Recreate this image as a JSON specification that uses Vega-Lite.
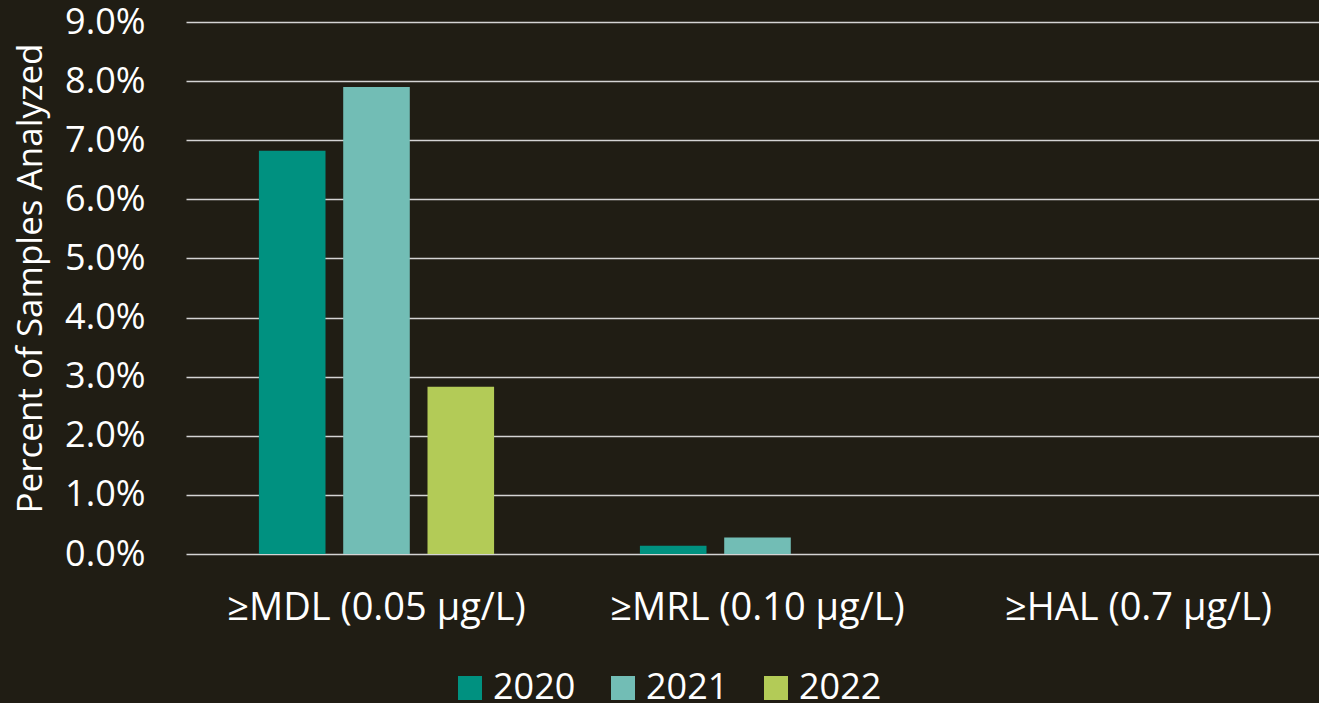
{
  "$schema": "https://vega.github.io/schema/vega-lite/v6.json",
  "width": 1143,
  "height": 532,
  "autosize": {"type": "none"},
  "padding": {"left": 186, "top": 22, "right": 0, "bottom": 149},
  "background": "#201D14",
  "config": {
    "view": {"stroke": null},
    "font": "Open Sans",
    "axis": {
      "labelColor": "#FFFFFF",
      "titleColor": "#FFFFFF",
      "labelFont": "Open Sans",
      "titleFont": "Open Sans",
      "titleFontWeight": "normal",
      "domain": false,
      "ticks": false
    },
    "legend": {
      "labelColor": "#FFFFFF",
      "labelFont": "Open Sans"
    }
  },
  "data": {
    "values": [
      {"threshold": "≥MDL (0.05 µg/L)", "year": "2020", "pct": 0.0682},
      {"threshold": "≥MDL (0.05 µg/L)", "year": "2021", "pct": 0.0790},
      {"threshold": "≥MDL (0.05 µg/L)", "year": "2022", "pct": 0.0283},
      {"threshold": "≥MRL (0.10 µg/L)", "year": "2020", "pct": 0.0014},
      {"threshold": "≥MRL (0.10 µg/L)", "year": "2021", "pct": 0.0028},
      {"threshold": "≥MRL (0.10 µg/L)", "year": "2022", "pct": 0.0},
      {"threshold": "≥HAL (0.7 µg/L)", "year": "2020", "pct": 0.0},
      {"threshold": "≥HAL (0.7 µg/L)", "year": "2021", "pct": 0.0},
      {"threshold": "≥HAL (0.7 µg/L)", "year": "2022", "pct": 0.0}
    ]
  },
  "mark": {"type": "bar"},
  "encoding": {
    "x": {
      "field": "threshold",
      "type": "nominal",
      "sort": ["≥MDL (0.05 µg/L)", "≥MRL (0.10 µg/L)", "≥HAL (0.7 µg/L)"],
      "scale": {"paddingInner": 0, "paddingOuter": 0},
      "axis": {
        "title": null,
        "labelAngle": 0,
        "labelFontSize": 38,
        "labelLimit": 0,
        "labelPadding": 35,
        "grid": false
      }
    },
    "xOffset": {
      "field": "year",
      "type": "nominal",
      "scale": {"paddingInner": 0.21, "paddingOuter": 0.865}
    },
    "y": {
      "field": "pct",
      "type": "quantitative",
      "scale": {"domain": [0, 0.09], "nice": false},
      "axis": {
        "title": "Percent of Samples Analyzed",
        "format": ".1%",
        "values": [0, 0.01, 0.02, 0.03, 0.04, 0.05, 0.06, 0.07, 0.08, 0.09],
        "labelFontSize": 36,
        "labelPadding": 41,
        "grid": true,
        "gridColor": "#D4D4D4",
        "gridWidth": 1.5,
        "titleFontSize": 35,
        "titleAngle": -90,
        "titleAlign": "center",
        "titleBaseline": "middle",
        "titleX": -156,
        "titleY": 256
      }
    },
    "color": {
      "field": "year",
      "type": "nominal",
      "scale": {
        "domain": ["2020", "2021", "2022"],
        "range": ["#009180", "#72BDB5", "#B3CB57"]
      },
      "legend": {
        "title": null,
        "orient": "none",
        "direction": "horizontal",
        "legendX": 266,
        "legendY": 648,
        "symbolType": "square",
        "symbolSize": 576,
        "symbolStrokeWidth": 0,
        "labelFontSize": 36,
        "labelOffset": 5,
        "columnPadding": 29,
        "padding": 0
      }
    }
  }
}
